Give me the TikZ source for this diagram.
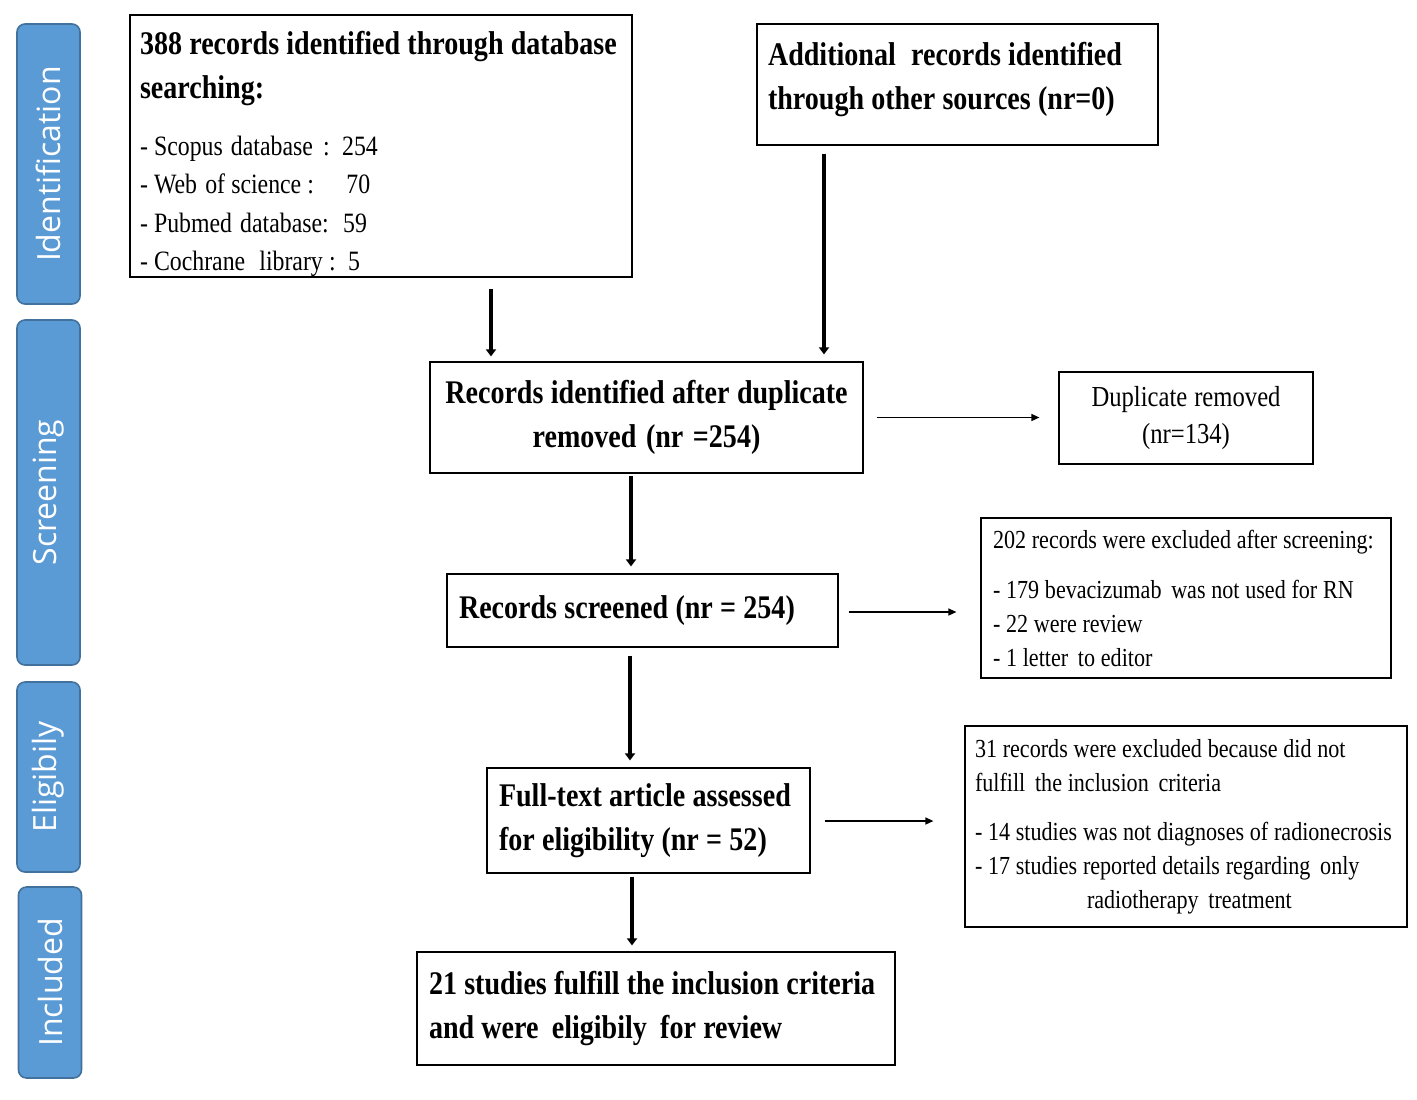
\documentclass[tikz,border=0pt]{standalone}
\usepackage{fontspec}
\setmainfont[FakeStretch=0.85]{Liberation Serif}
\newfontfamily\phasefont{Open Sans}
\usetikzlibrary{arrows,arrows.meta}
\usetikzlibrary{calc}
\definecolor{phasecol}{RGB}{91,155,213}
\definecolor{phaseedge}{RGB}{65,113,156}
\tikzset{>=latex}
\hyphenpenalty=10000
\exhyphenpenalty=10000
\newcommand{\tightsp}{\spaceskip=0.22em plus 0.05em\relax\xspaceskip=0.3em\relax}
\tikzstyle{phasebar} = [draw=phaseedge, fill=phasecol, line width=0.8pt, rounded corners=4pt,
                        text=white, rotate=90, minimum height=31.5pt, inner sep=0pt,
                        font=\phasefont\fontsize{16}{18}\selectfont]
\tikzstyle{stepbox} = [draw, line width=0.6pt, inner ysep=2pt, align=left,
                       font=\fontsize{16.5}{22}\selectfont\bfseries,
                       execute at begin node=\tightsp]
\tikzstyle{notebox} = [draw, line width=0.6pt, inner ysep=2pt, align=left,
                       font=\fontsize{13}{17}\selectfont,
                       execute at begin node=\tightsp]
\tikzstyle{flowarrow} = [line width=2pt, -{Triangle[length=3.5pt,width=5pt]}]
\tikzstyle{exclarrow} = [line width=0.7pt, -{Triangle[length=4pt,width=3.5pt]}]

\begin{document}
\begin{tikzpicture}[x=0.5pt,y=-0.5pt]
  \useasboundingbox (0,0) rectangle (1417,1099);

  % PHASES
  \node[phasebar, minimum width=140pt]   (idf) at (48.5,164)   {Identification};
  \node[phasebar, minimum width=172.5pt] (scr) at (48.5,492.5) {Screening};
  \node[phasebar, minimum width=95pt]    (elg) at (48.5,777)   {Eligibily};
  \node[phasebar, minimum width=95.5pt]  (inc) at (50,982.5)   {Included};

  % MAIN FLOW
  \node[stepbox, text width=241pt, inner xsep=5pt, inner ysep=0pt, minimum height=130pt] (db) at (381,146)
    {\mbox{}\\[-2.5pt]
     388 records identified through database\\
     searching:\\[9.2pt]
     \fontsize{14}{19.3}\selectfont\mdseries\tightsp
     - Scopus \hspace{1pt}database\hspace{2pt} : \hspace{2pt}254\\
     - Web \hspace{1pt}of science : \hspace{12pt}70\\
     - Pubmed \hspace{1pt}database: \hspace{3pt}59\\[-2.7pt]
     - Cochrane \hspace{4pt}library : \hspace{2pt}5};
  \node[stepbox, text width=189.5pt, inner xsep=5.5pt, minimum height=60.5pt] (other) at (957.5,84.5)
    {Additional \hspace{4pt}records identified\\ through other sources (nr=0)\\[-13pt]\mbox{}};
  \node[stepbox, text width=206pt, inner xsep=5.25pt, minimum height=55.5pt, align=center] (dup) at (646.5,417.5)
    {Records identified after duplicate\\ removed (nr =254)};
  \node[stepbox, text width=183.5pt, inner xsep=6pt, minimum height=36.5pt] (scd) at (642.5,610.5)
    {Records screened (nr = 254)};
  \node[stepbox, text width=149.5pt, inner xsep=6pt, minimum height=52.5pt] (full) at (648.5,820.5)
    {Full-text article assessed\\ for eligibility (nr = 52)};
  \node[stepbox, text width=227pt, inner xsep=6pt, minimum height=56.5pt] (incl) at (656,1008.5)
    {21 studies fulfill the inclusion criteria\\ and were \hspace{3pt}eligibily \hspace{3pt}for review};

  % EXCLUSIONS
  \node[notebox, text width=117pt, inner xsep=5pt, minimum height=46pt, align=center,
        font=\fontsize{14.5}{18.5}\selectfont] (rem) at (1186,418)
    {Duplicate removed\\ (nr=134)};
  \node[notebox, text width=193pt, inner xsep=6pt, minimum height=80pt] (exs) at (1186,598)
    {202 records were excluded after screening:\\[8pt]
     - 179 bevacizumab \hspace{2pt}was not used for RN\\
     - 22 were review\\
     - 1 letter \hspace{2pt}to editor};
  \node[notebox, text width=211pt, inner xsep=5pt, minimum height=100.5pt] (exf) at (1186,826.5)
    {31 records were excluded because did not\\
     fulfill \hspace{2pt}the inclusion \hspace{2pt}criteria\\[7.5pt]
     - 14 studies was not diagnoses of radionecrosis\\
     - 17 studies reported details regarding \hspace{2pt}only\\
     \hspace*{56pt}radiotherapy \hspace{2pt}treatment};

  % ARROWS
  \draw[flowarrow, shorten <=5.5pt, shorten >=2.5pt]
    ([xshift=55pt]db.south) -- ([xshift=55pt]db.south |- dup.north);
  \draw[flowarrow, shorten <=4pt, shorten >=3.5pt]
    ([xshift=-66.75pt]other.south) -- ([xshift=-66.75pt]other.south |- dup.north);
  \draw[flowarrow, shorten <=1pt, shorten >=3.5pt]
    ([xshift=-7.75pt]dup.south) -- ([xshift=-7.75pt]dup.south |- scd.north);
  \draw[flowarrow, shorten <=4pt, shorten >=3.5pt]
    ([xshift=-6.25pt]scd.south) -- ([xshift=-6.25pt]scd.south |- full.north);
  \draw[flowarrow, shorten <=1.5pt, shorten >=3pt]
    ([xshift=-8.25pt]full.south) -- ([xshift=-8.25pt]full.south |- incl.north);

  \draw[exclarrow, shorten <=6.5pt, shorten >=9.5pt] (dup.east) -- (dup.east -| rem.west);
  \draw[exclarrow, shorten <=5pt, shorten >=12pt]
    ([yshift=-0.75pt]scd.east) -- ([yshift=-0.75pt]scd.east -| exs.west);
  \draw[exclarrow, shorten <=7pt, shorten >=15.5pt]
    ([yshift=-0.25pt]full.east) -- ([yshift=-0.25pt]full.east -| exf.west);
\end{tikzpicture}
\end{document}
